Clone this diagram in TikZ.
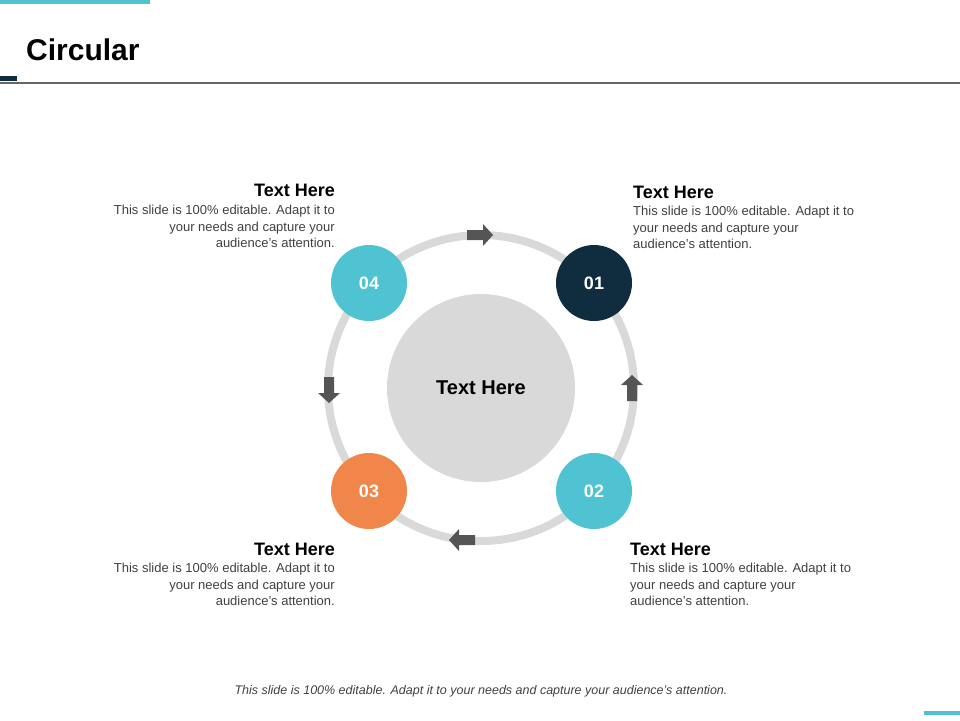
\documentclass[tikz,border=0pt]{standalone}
\usepackage{fontspec}
\setmainfont{Liberation Sans}
\definecolor{navy}{HTML}{0F2D3F}
\definecolor{teal}{HTML}{4FC3D1}
\definecolor{orng}{HTML}{F0864A}
\definecolor{ringgray}{HTML}{D9D9D9}
\definecolor{arrgray}{HTML}{555555}
\definecolor{txtgray}{HTML}{404040}
\tikzset{
  stage/.style={circle, minimum size=76pt, inner sep=0pt, text=white, font=\bfseries\fontsize{18}{20}\selectfont},
  headtxt/.style={inner sep=0pt, font=\bfseries\fontsize{18}{20}\selectfont},
  bodytxt/.style={inner sep=0pt, text=txtgray, font=\fontsize{13}{16.5}\selectfont},
  flow/.pic={\fill[arrgray] (-13,-5) -- (3,-5) -- (3,-11) -- (13,0) -- (3,11) -- (3,5) -- (-13,5) -- cycle;}
}
\begin{document}
\begin{tikzpicture}[x=1pt,y=-1pt]
\useasboundingbox (0,0) rectangle (960,720);
% frame
\fill[teal] (0,0) rectangle (150,4);
\fill[navy] (0,76) rectangle (17,81);
\draw[line width=1.5pt, arrgray!90] (0,83) -- (960,83);
\fill[teal] (924,711) rectangle (960,715);
\node[anchor=base west, inner sep=0pt, font=\bfseries\fontsize{30}{32}\selectfont] (title) at (26,60) {Circular};
% ring
\node[circle, fill=ringgray, minimum size=188pt, inner sep=0pt, font=\bfseries\fontsize{20}{22}\selectfont] (hub) at (481,388) {Text Here};
\draw[ringgray, line width=8pt] (hub.center) circle (153);
\pic[rotate=0] at (480,235) {flow};
\pic[rotate=90] at (632,388) {flow};
\pic[rotate=180] at (462,540) {flow};
\pic[rotate=270] at (329,390) {flow};
\node[stage, fill=navy] (s1) at (594,283) {01};
\node[stage, fill=teal] (s2) at (594,491) {02};
\node[stage, fill=orng] (s3) at (369,491) {03};
\node[stage, fill=teal] (s4) at (369,283) {04};
% labels
\node[headtxt, anchor=base east] (h4) at (335,196) {Text Here};
\node[bodytxt, anchor=north east, align=right] (b4) at (335,205) {This slide is 100\% editable. Adapt it to\\your needs and capture your\\audience's attention.};
\node[headtxt, anchor=base west] (h1) at (633,198) {Text Here};
\node[bodytxt, anchor=north west, align=left] (b1) at (633,206) {This slide is 100\% editable. Adapt it to\\your needs and capture your\\audience's attention.};
\node[headtxt, anchor=base east] (h3) at (335,555) {Text Here};
\node[bodytxt, anchor=north east, align=right] (b3) at (335,563) {This slide is 100\% editable. Adapt it to\\your needs and capture your\\audience's attention.};
\node[headtxt, anchor=base west] (h2) at (630,555) {Text Here};
\node[bodytxt, anchor=north west, align=left] (b2) at (630,563) {This slide is 100\% editable. Adapt it to\\your needs and capture your\\audience's attention.};
\node[bodytxt, anchor=base, font=\itshape\fontsize{12.5}{14}\selectfont] (foot) at (481,694) {This slide is 100\% editable. Adapt it to your needs and capture your audience's attention.};
\end{tikzpicture}
\end{document}
